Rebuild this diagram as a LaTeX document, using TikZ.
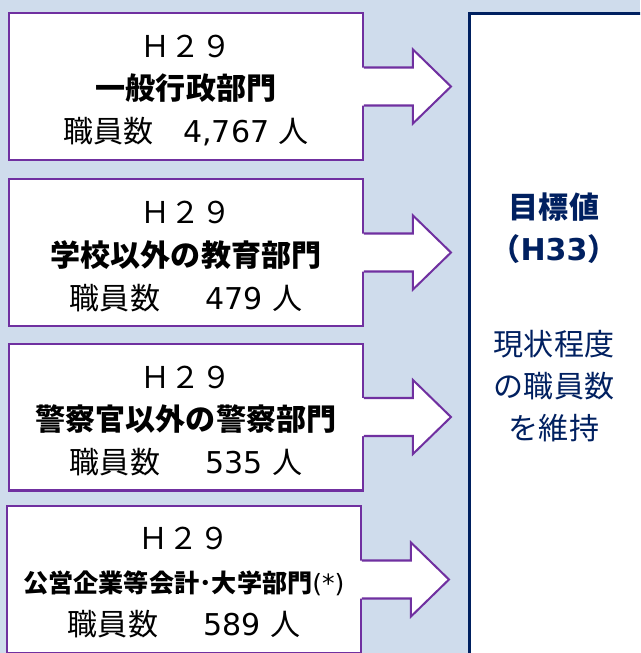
\documentclass[tikz,border=0pt]{standalone}
\usepackage{fontspec}
\setmainfont{Noto Sans CJK JP}
\newfontfamily\numfont{DejaVu Sans}
\usetikzlibrary{calc}
\definecolor{bgblue}{RGB}{207, 220, 236}
\definecolor{boxpurple}{RGB}{112, 48, 160}
\definecolor{navy}{RGB}{0, 32, 96}

\tikzset{
  srcbox/.style={draw=boxpurple, fill=white, line width=1.15pt, inner sep=0pt,
    minimum width=7.08cm, minimum height=2.94cm},
  srctext/.style={align=center, inner sep=0pt,
    font=\fontsize{17.1pt}{24.3pt}\selectfont},
  goalbox/.style={draw=navy, fill=white, line width=1.7pt, inner sep=0pt,
    minimum width=3.46cm, minimum height=14cm},
  goaltext/.style={text=navy, align=center, inner sep=0pt,
    font=\fontsize{17.1pt}{23.9pt}\selectfont},
  arrowline/.style={draw=boxpurple, line width=1.15pt}
}

\begin{document}
\begin{tikzpicture}[x=0.02cm, y=-0.02cm]

  \pgfmathsetmacro{\sh}{19}
  \pgfmathsetmacro{\hh}{37}
  \pgfmathsetmacro{\hb}{49}
  \pgfmathsetmacro{\tip}{87}

  \useasboundingbox (0, 0) rectangle (640, 653);
  \clip (0, 0) rectangle (640, 653);
  \fill[bgblue] (0, 0) rectangle (640, 653);

  % target box on the right
  \node[goalbox, anchor=north west] (goal) at (468, 12) {};
  \node[goaltext, font=\fontsize{17.1pt}{23.9pt}\selectfont\bfseries] (goaltitle) at (554, 228)
    {目標値\\（{\numfont H33}）};
  \node[goaltext] (goalnote) at (554, 386) {現状程度\\の職員数\\を維持};

  % source boxes
  \node[srcbox] (s1) at (186, 86.5) {};
  \node[srcbox] (s2) at (186, 252.5) {};
  \node[srcbox] (s3) at (186, 417) {};
  \node[srcbox] (s4) at (184, 579.5) {};

  \node[srctext] (t1) at ($(s1)+(0,4)$)
    {Ｈ２９\\{\bfseries 一般行政部門}\\職員数　{\numfont 4,767 }人};
  \node[srctext] (t2) at ($(s2)+(0,4)$)
    {Ｈ２９\\{\bfseries 学校以外の教育部門}\\職員数　\enspace{\numfont 479 }人};
  \node[srctext] (t3) at ($(s3)+(0,4)$)
    {Ｈ２９\\{\bfseries 警察官以外の警察部門}\\職員数　\enspace{\numfont 535 }人};
  \node[srctext] (t4) at ($(s4)+(0,3)$)
    {Ｈ２９\\{\fontsize{14.3pt}{24.3pt}\selectfont
    \textbf{公営企業等会計･大学部門}{\numfont (*)}}\\職員数　\enspace{\numfont 589 }人};

  % block arrows out of each box
  \foreach \b in {s1, s2, s3, s4} {
    \fill[white] ($(\b.east)+(-2,-\sh)$) -- ($(\b.east)+(\hb,-\sh)$)
      -- ($(\b.east)+(\hb,-\hh)$) -- ($(\b.east)+(\tip,0)$)
      -- ($(\b.east)+(\hb,\hh)$) -- ($(\b.east)+(\hb,\sh)$)
      -- ($(\b.east)+(-2,\sh)$) -- cycle;
    \draw[arrowline] ($(\b.east)+(0,-\sh)$) -- ($(\b.east)+(\hb,-\sh)$)
      -- ($(\b.east)+(\hb,-\hh)$) -- ($(\b.east)+(\tip,0)$) coordinate (\b tip)
      -- ($(\b.east)+(\hb,\hh)$) -- ($(\b.east)+(\hb,\sh)$)
      -- ($(\b.east)+(0,\sh)$);
  }

\end{tikzpicture}
\end{document}
